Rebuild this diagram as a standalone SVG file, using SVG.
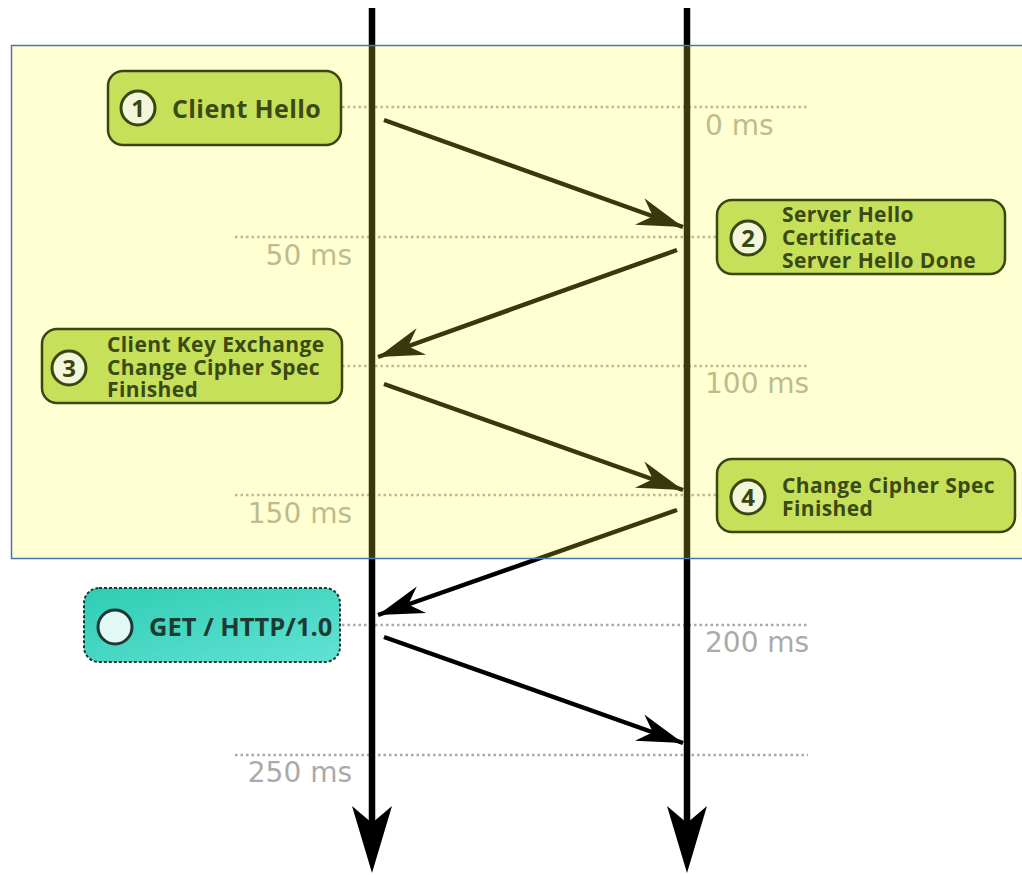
<svg xmlns="http://www.w3.org/2000/svg" width="1022" height="875" viewBox="0 0 1022 875">
  <style>
    .dot { stroke: #a8a8a8; stroke-width: 2.5; stroke-dasharray: 2.5 3; fill: none; }
    .ms { font-family: "DejaVu Sans", sans-serif; font-size: 28px; fill: #aaaaaa; }
    .life { stroke: #000; stroke-width: 6.5; fill: none; }
    .msg { stroke: #000; stroke-width: 4.5; fill: none; marker-end: url(#ah); }
    .box { fill: #c6e05a; stroke: #3a4610; stroke-width: 2.5; }
    .num { fill: #f3f6d8; stroke: #3a4610; stroke-width: 3; }
    .numt { font-family: "Open Sans", sans-serif; font-weight: 700; font-size: 24px; fill: #3a4610; text-anchor: middle; }
    .lbl { font-family: "Open Sans", sans-serif; font-weight: 700; font-size: 21px; letter-spacing: 0.4px; fill: #3a4a12; }
    .lbl1 { font-family: "Open Sans", sans-serif; font-weight: 700; font-size: 25px; letter-spacing: 0.4px; fill: #3a4a12; }
  </style>
  <defs>
    <marker id="ah" markerUnits="userSpaceOnUse" viewBox="-48 -16 50 32" refX="0" refY="0" markerWidth="50" markerHeight="32" orient="auto">
      <path d="M0,0 L-46,-14 L-32,0 L-46,14 Z" fill="#000"/>
    </marker>
    <linearGradient id="teal" x1="0" y1="0" x2="1" y2="1">
      <stop offset="0" stop-color="#2ecdb3"/>
      <stop offset="1" stop-color="#62e2d4"/>
    </linearGradient>
  </defs>
  <rect width="1022" height="875" fill="#ffffff"/>

  <g id="grid">
    <line class="dot" x1="342" y1="107" x2="808" y2="107"/>
    <line class="dot" x1="235" y1="237" x2="717" y2="237"/>
    <line class="dot" x1="342" y1="366" x2="808" y2="366"/>
    <line class="dot" x1="235" y1="495" x2="717" y2="495"/>
    <line class="dot" x1="342" y1="625" x2="808" y2="625"/>
    <line class="dot" x1="235" y1="755" x2="808" y2="755"/>
    <text class="ms" x="705" y="135">0 ms</text>
    <text class="ms" x="352" y="265" text-anchor="end">50 ms</text>
    <text class="ms" x="705" y="393">100 ms</text>
    <text class="ms" x="352" y="523" text-anchor="end">150 ms</text>
    <text class="ms" x="705" y="652">200 ms</text>
    <text class="ms" x="352" y="782" text-anchor="end">250 ms</text>
  </g>

  <g id="connectors">
    <line class="life" x1="372" y1="8" x2="372" y2="830"/>
    <path d="M372,873 L352,806 L372,823 L392,806 Z" fill="#000"/>
    <line class="life" x1="687" y1="8" x2="687" y2="830"/>
    <path d="M687,873 L667,806 L687,823 L707,806 Z" fill="#000"/>
    <line class="msg" x1="384" y1="120" x2="683" y2="227"/>
    <line class="msg" x1="677" y1="250" x2="378" y2="357"/>
    <line class="msg" x1="384" y1="384" x2="683" y2="490"/>
    <line class="msg" x1="677" y1="510" x2="378" y2="615"/>
    <line class="msg" x1="384" y1="637" x2="683" y2="743"/>
  </g>

  <rect id="phase" x="11.5" y="45.5" width="1020" height="513" fill="rgb(255,255,45)" fill-opacity="0.22"/>

  <g id="n1">
    <rect class="box" x="108" y="71" width="233" height="74" rx="15"/>
    <circle class="num" cx="138" cy="108" r="17"/>
    <text class="numt" x="138" y="117">1</text>
    <text class="lbl1" x="172" y="118">Client Hello</text>
  </g>
  <g id="n2">
    <rect class="box" x="717" y="200" width="288" height="74" rx="15"/>
    <circle class="num" cx="748" cy="238" r="17"/>
    <text class="numt" x="748" y="247">2</text>
    <text class="lbl" x="782" y="222">Server Hello</text>
    <text class="lbl" x="782" y="245">Certificate</text>
    <text class="lbl" x="782" y="268">Server Hello Done</text>
  </g>
  <g id="n3">
    <rect class="box" x="42" y="329" width="300" height="74" rx="15"/>
    <circle class="num" cx="69" cy="368" r="17"/>
    <text class="numt" x="69" y="377">3</text>
    <text class="lbl" x="107" y="352">Client Key Exchange</text>
    <text class="lbl" x="107" y="375">Change Cipher Spec</text>
    <text class="lbl" x="107" y="397">Finished</text>
  </g>
  <g id="n4">
    <rect class="box" x="717" y="459" width="298" height="73" rx="15"/>
    <circle class="num" cx="748" cy="497" r="17"/>
    <text class="numt" x="748" y="506">4</text>
    <text class="lbl" x="782" y="493">Change Cipher Spec</text>
    <text class="lbl" x="782" y="516">Finished</text>
  </g>
  <g id="n5">
    <rect x="84" y="588" width="256" height="74" rx="15" fill="url(#teal)" stroke="#1e3834" stroke-width="2" stroke-dasharray="3 2"/>
    <circle cx="115" cy="627" r="17" fill="#e2f8f4" stroke="#1e3834" stroke-width="3"/>
    <text x="149" y="636" font-family="Open Sans, sans-serif" font-weight="700" font-size="25.5" fill="#1d3a33">GET / HTTP/1.0</text>
  </g>

  <path d="M1022,45.5 H11.5 V558.5 H1022" fill="none" stroke="#4a74b4" stroke-width="1.5"/>
</svg>
